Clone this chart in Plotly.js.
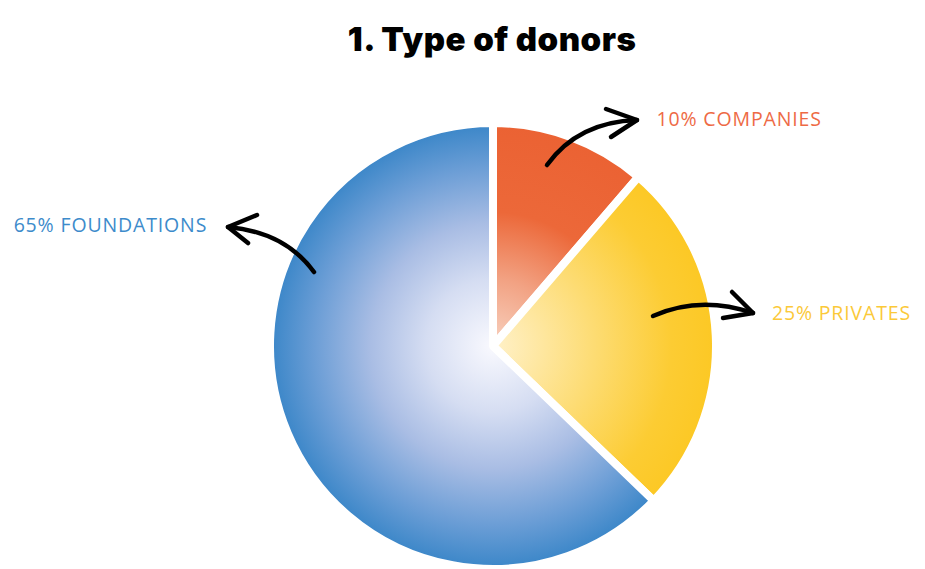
<!DOCTYPE html>
<html>
<head>
<meta charset="utf-8">
<script src="https://cdn.plot.ly/plotly-3.0.1.min.js"></script>
<style>
  html, body { margin: 0; padding: 0; background: #ffffff; }
  #chart { width: 925px; height: 569px; }
</style>
</head>
<body>
<div id="chart"></div>
<script>
// ---- data ----
const categories = ["COMPANIES", "PRIVATES", "FOUNDATIONS"];
const sliceValues = [11.3, 25.9, 62.8];          // slice sizes as drawn
const labelPercents = ["10%", "25%", "65%"];    // percentages as printed
const sliceColors = ["#EB6233", "#FCC824", "#3A86C8"];
const labelColors = ["#EE6A45", "#FBC939", "#3D8BCB"];

// gradient stops per slice (center -> edge)
const gradientStops = [
  [[0, "#f8d2c0"], [0.3, "#f2a283"], [0.6, "#ec6839"], [1, "#eb6233"]],
  [[0, "#fff1c9"], [0.45, "#fddc74"], [0.8, "#fccc33"], [1, "#fcc824"]],
  [[0, "#f9f9fe"], [0.3, "#d5ddf2"], [0.55, "#a9bde4"], [0.8, "#6c9ed6"], [1, "#3a86c8"]]
];

const W = 925, H = 569;
const px = (x) => x / W;
const py = (y) => 1 - y / H;
function pathFrom(cmds) {
  return cmds.map(c => c[0] + " " + c.slice(1).map((v, i) => i % 2 === 0 ? px(v) : py(v)).join(",")).join(" ");
}

// hand-drawn style arrows (decorations)
const arrowPaths = [
  // companies
  pathFrom([["M", 547, 165], ["Q", 578, 122, 637, 120]]),
  pathFrom([["M", 606, 109], ["L", 637, 120], ["L", 611, 137]]),
  // foundations
  pathFrom([["M", 314, 272], ["Q", 285, 232, 228, 227]]),
  pathFrom([["M", 257, 215], ["L", 228, 227], ["L", 248, 243]]),
  // privates
  pathFrom([["M", 653, 316], ["Q", 700, 295, 753, 313]]),
  pathFrom([["M", 732, 292], ["L", 753, 313], ["L", 723, 318]])
];

const labels = categories.map((c, i) => labelPercents[i] + " " + c);
const labelPos = [[660, 119, "left"], [775, 312, "left"], [203, 224, "right"]];

const data = [{
  type: "pie",
  labels: categories,
  values: sliceValues,
  sort: false,
  direction: "clockwise",
  rotation: 0,
  textinfo: "none",
  hoverinfo: "label+percent",
  marker: { colors: sliceColors, line: { color: "#ffffff", width: 8 } },
  domain: { x: [270 / W, 716 / W], y: [0, 446 / H] },
  showlegend: false
}];

const annotations = labels.map((t, i) => ({
  text: t,
  xref: "paper", yref: "paper",
  x: px(labelPos[i][0]), y: py(labelPos[i][1]),
  xanchor: labelPos[i][2], yanchor: "middle",
  showarrow: false,
  font: { family: "Open Sans", size: 19.5, color: labelColors[i], weight: 400 }
}));

const shapes = arrowPaths.map(p => ({
  type: "path", path: p, xref: "paper", yref: "paper",
  line: { color: "#000000", width: 4.5 }
}));

const layout = {
  width: W, height: H,
  margin: { l: 0, r: 0, t: 0, b: 0 },
  paper_bgcolor: "#ffffff",
  plot_bgcolor: "#ffffff",
  title: {
    text: "1. Type of donors",
    x: 0.532, xanchor: "center",
    y: py(39), yanchor: "middle",
    font: { family: "Inter", size: 33, color: "#000000", weight: 900 }
  },
  annotations: annotations,
  shapes: shapes
};

Plotly.newPlot("chart", data, layout, { displayModeBar: false, staticPlot: true }).then(gd => {
  const cd0 = gd.calcdata[0][0];
  const svg = gd.querySelector(".main-svg");
  const NS = "http://www.w3.org/2000/svg";
  let defs = svg.querySelector("defs");
  if (!defs) { defs = document.createElementNS(NS, "defs"); svg.insertBefore(defs, svg.firstChild); }
  const slices = gd.querySelectorAll(".pielayer .slice path.surface");
  slices.forEach((path, i) => {
    const idx = gd.calcdata[0][i] ? gd.calcdata[0][i].i : i;
    const g = document.createElementNS(NS, "radialGradient");
    g.setAttribute("id", "sliceGrad" + idx);
    g.setAttribute("gradientUnits", "userSpaceOnUse");
    g.setAttribute("cx", cd0.cx);
    g.setAttribute("cy", cd0.cy);
    g.setAttribute("r", cd0.r);
    gradientStops[idx].forEach(s => {
      const st = document.createElementNS(NS, "stop");
      st.setAttribute("offset", s[0]);
      st.setAttribute("stop-color", s[1]);
      g.appendChild(st);
    });
    defs.appendChild(g);
    path.style.fill = "url(#sliceGrad" + idx + ")";
  });
  gd.querySelectorAll(".shapelayer path").forEach(p => {
    p.style.strokeLinecap = "round";
    p.style.strokeLinejoin = "round";
  });
  gd.querySelectorAll(".annotation-text").forEach(t => { t.style.letterSpacing = "0.85px"; });
  const title = gd.querySelector(".gtitle");
  if (title) title.style.letterSpacing = "0.5px";
});
</script>
</body>
</html>
